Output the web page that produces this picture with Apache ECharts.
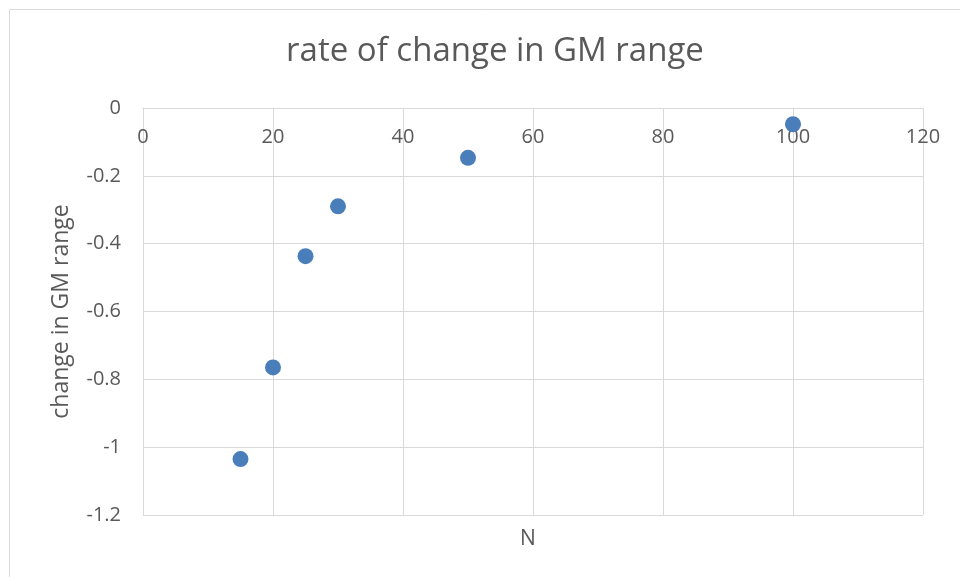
<!DOCTYPE html>
<html>
<head>
<meta charset="utf-8">
<script src="https://cdn.jsdelivr.net/npm/echarts@6/dist/echarts.min.js"></script>
<style>
  html, body { margin: 0; padding: 0; background: #fff; }
  #main { width: 960px; height: 577px; }
</style>
</head>
<body>
<div id="main"></div>
<script>
// N values and the measured change in GM range
var nValues = [15, 20, 25, 30, 50, 100];
var changeValues = [-1.035, -0.765, -0.437, -0.29, -0.147, -0.048];

var points = [];
for (var i = 0; i < nValues.length; i++) {
    points.push([nValues[i], changeValues[i]]);
}

var myChart = echarts.init(document.getElementById('main'));

var textColor = '#595959';
var gridColor = '#d9d9d9';
var font = 'Open Sans, Liberation Sans, sans-serif';

var option = {
    animation: false,
    textStyle: { fontFamily: font },
    title: [
        {
            text: 'rate of change in GM range',
            left: 490,
            top: 30,
            textAlign: 'center',
            textStyle: { fontSize: 33, fontWeight: 'normal', color: textColor, fontFamily: font }
        },
        {
            text: 'N',
            left: 523,
            top: 524,
            textAlign: 'center',
            textStyle: { fontSize: 21, fontWeight: 'normal', color: textColor, fontFamily: font }
        }
    ],
    graphic: [
        {
            type: 'rect',
            shape: { x: 9.5, y: 9.5, width: 1000, height: 1000 },
            style: { fill: 'none', stroke: '#d9d9d9', lineWidth: 1 },
            silent: true
        }
    ],
    grid: { left: 143, top: 108, right: 37, bottom: 62 },
    xAxis: {
        type: 'value',
        position: 'top',
        min: 0,
        max: 120,
        interval: 20,
        axisLine: { show: true, onZero: false, lineStyle: { color: gridColor } },
        axisTick: { show: false },
        axisLabel: { inside: true, margin: 19, color: textColor, fontSize: 20 },
        splitLine: { show: true, lineStyle: { color: gridColor } }
    },
    yAxis: {
        type: 'value',
        min: -1.2,
        max: 0,
        interval: 0.2,
        name: 'change in GM range',
        nameLocation: 'middle',
        nameRotate: 90,
        nameGap: 70,
        nameTextStyle: { color: textColor, fontSize: 23 },
        axisLine: { show: true, onZero: false, lineStyle: { color: gridColor } },
        axisTick: { show: false },
        axisLabel: { margin: 22, color: textColor, fontSize: 20 },
        splitLine: { show: true, lineStyle: { color: gridColor } }
    },
    series: [
        {
            type: 'scatter',
            data: points,
            symbolSize: 16,
            itemStyle: { color: '#4a7ebb', opacity: 1 }
        }
    ]
};

myChart.setOption(option);
</script>
</body>
</html>
